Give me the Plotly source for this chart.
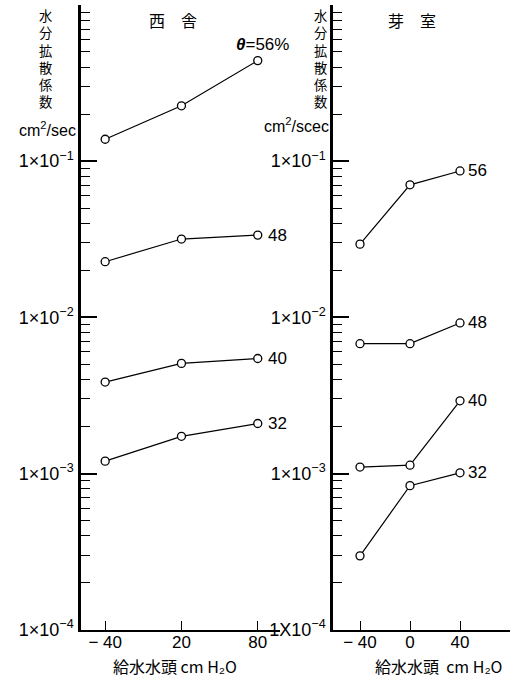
import math
import plotly.graph_objects as go

W, H = 523, 687

# 西舎 (left panel): supply head (cm H2O) and diffusivity (cm²/sec) per moisture content θ
nishi_head = [-40, 20, 80]
nishi_ticks = ["− 40", "20", "80"]
nishi_d56 = [0.138, 0.226, 0.44]
nishi_d48 = [0.0227, 0.0317, 0.0336]
nishi_d40 = [0.00385, 0.00507, 0.00545]
nishi_d32 = [0.00120, 0.00173, 0.00209]

# 芽室 (right panel)
memuro_head = [-40, 0, 40]
memuro_ticks = ["− 40", "0", "40"]
memuro_d56 = [0.0294, 0.0705, 0.0865]
memuro_d48 = [0.00678, 0.00678, 0.0092]
memuro_d40 = [0.00110, 0.00113, 0.00292]
memuro_d32 = [0.000297, 0.000836, 0.00101]

theta_labels = ["56", "48", "40", "32"]

decades = [1e-4, 1e-3, 1e-2, 1e-1, 1.0]
left_decade_text = ["1×10<sup>−4</sup>", "1×10<sup>−3</sup>", "1×10<sup>−2</sup>",
                    "1×10<sup>−1</sup>", ""]
right_decade_text = ["1X10<sup>−4</sup>", "1×10<sup>−3</sup>", "1×10<sup>−2</sup>",
                     "1×10<sup>−1</sup>", ""]
minor_vals = [m * 10 ** e for e in range(-4, 0) for m in range(2, 10)]

LATIN = "Liberation Sans, Arial, Noto Sans CJK JP, sans-serif"
CJK = "Noto Sans CJK JP, sans-serif"

fig = go.Figure()

marker = dict(symbol="circle", size=8, color="white",
              line=dict(color="black", width=1.3))
line = dict(color="black", width=1.2)

for series in [nishi_d56, nishi_d48, nishi_d40, nishi_d32]:
    fig.add_trace(go.Scatter(x=nishi_head, y=series, mode="lines+markers",
                             marker=marker, line=line, xaxis="x", yaxis="y",
                             showlegend=False, cliponaxis=False))
for series in [memuro_d56, memuro_d48, memuro_d40, memuro_d32]:
    fig.add_trace(go.Scatter(x=memuro_head, y=series, mode="lines+markers",
                             marker=marker, line=line, xaxis="x2", yaxis="y2",
                             showlegend=False, cliponaxis=False))


def px(x):
    return x / W


def py(y):
    return 1 - y / H


ydom = [py(639), py(5)]

yaxis_common = dict(
    type="log", range=[-4, 0], tickvals=decades, ticks="inside", ticklen=16,
    tickwidth=1.5, tickcolor="black", showline=True, linecolor="black",
    linewidth=2.5, showgrid=False, zeroline=False, domain=ydom,
    tickfont=dict(family=LATIN, size=18, color="black"),
    ticklabelstandoff=1,
    minor=dict(tickvals=minor_vals, ticks="inside", ticklen=9, tickwidth=1.3,
               tickcolor="black", showgrid=False),
)
xaxis_common = dict(
    ticks="inside", ticklen=9, tickwidth=1.3, tickcolor="black",
    showline=True, linecolor="black", linewidth=2, showgrid=False,
    zeroline=False, tickfont=dict(family=LATIN, size=17, color="black"),
    ticklabelstandoff=-4,
)

fig.update_layout(
    width=W, height=H, margin=dict(l=0, r=0, t=0, b=0),
    paper_bgcolor="white", plot_bgcolor="white",
    font=dict(family=LATIN, color="black"),
    xaxis=dict(xaxis_common, domain=[px(81), px(280)], range=[-59, 97.5],
               tickvals=nishi_head, ticktext=nishi_ticks, anchor="y"),
    yaxis=dict(yaxis_common, ticktext=left_decade_text, anchor="x"),
    xaxis2=dict(xaxis_common, domain=[px(333), px(510)], range=[-61.6, 80],
                tickvals=memuro_head, ticktext=memuro_ticks, anchor="y2"),
    yaxis2=dict(yaxis_common, ticktext=right_decade_text, anchor="x2"),
)

ann = []


def label(x, y, text, size, family=LATIN, xanchor="center", xref="paper",
          yref="paper", **kw):
    ann.append(dict(x=x, y=y, xref=xref, yref=yref, text=text, showarrow=False,
                    xanchor=xanchor, yanchor=kw.pop("yanchor", "middle"),
                    font=dict(family=family, size=size, color="black"), **kw))


# series labels next to the last point of each line
for series, lab in zip([nishi_d48, nishi_d40, nishi_d32], theta_labels[1:]):
    label(nishi_head[-1], math.log10(series[-1]), lab, 17, xanchor="left",
          xref="x", yref="y", xshift=8)
label(nishi_head[-1], math.log10(nishi_d56[-1]), "<b><i>θ</i></b>=56%", 17,
      xref="x", yref="y", yanchor="bottom", xshift=5, yshift=5)
for series, lab in zip([memuro_d56, memuro_d48, memuro_d40, memuro_d32], theta_labels):
    label(memuro_head[-1], math.log10(series[-1]), lab, 17, xanchor="left",
          xref="x2", yref="y2", xshift=6)

# panel titles
label(px(173), py(20), "西　舎", 16, family=CJK)
label(px(412), py(20), "芽　室", 16, family=CJK)

# vertical y-axis titles, one character per line
vertical_title = "<br>".join("水分拡散係数")
label(px(45), py(59), vertical_title, 13.3, family=CJK)
label(px(320), py(59), vertical_title, 13.3, family=CJK)
label(px(78), py(131), "cm<sup>2</sup>/sec", 16, xanchor="right")
label(px(331), py(127), "cm<sup>2</sup>/scec", 16, xanchor="right")

# x-axis titles
label(px(175), py(676), "給水水頭 cm H₂O", 16, family=CJK)
label(px(438), py(676), "給水水頭  cm H₂O", 16, family=CJK)

fig.update_layout(annotations=ann)
fig.write_html("out.html")
